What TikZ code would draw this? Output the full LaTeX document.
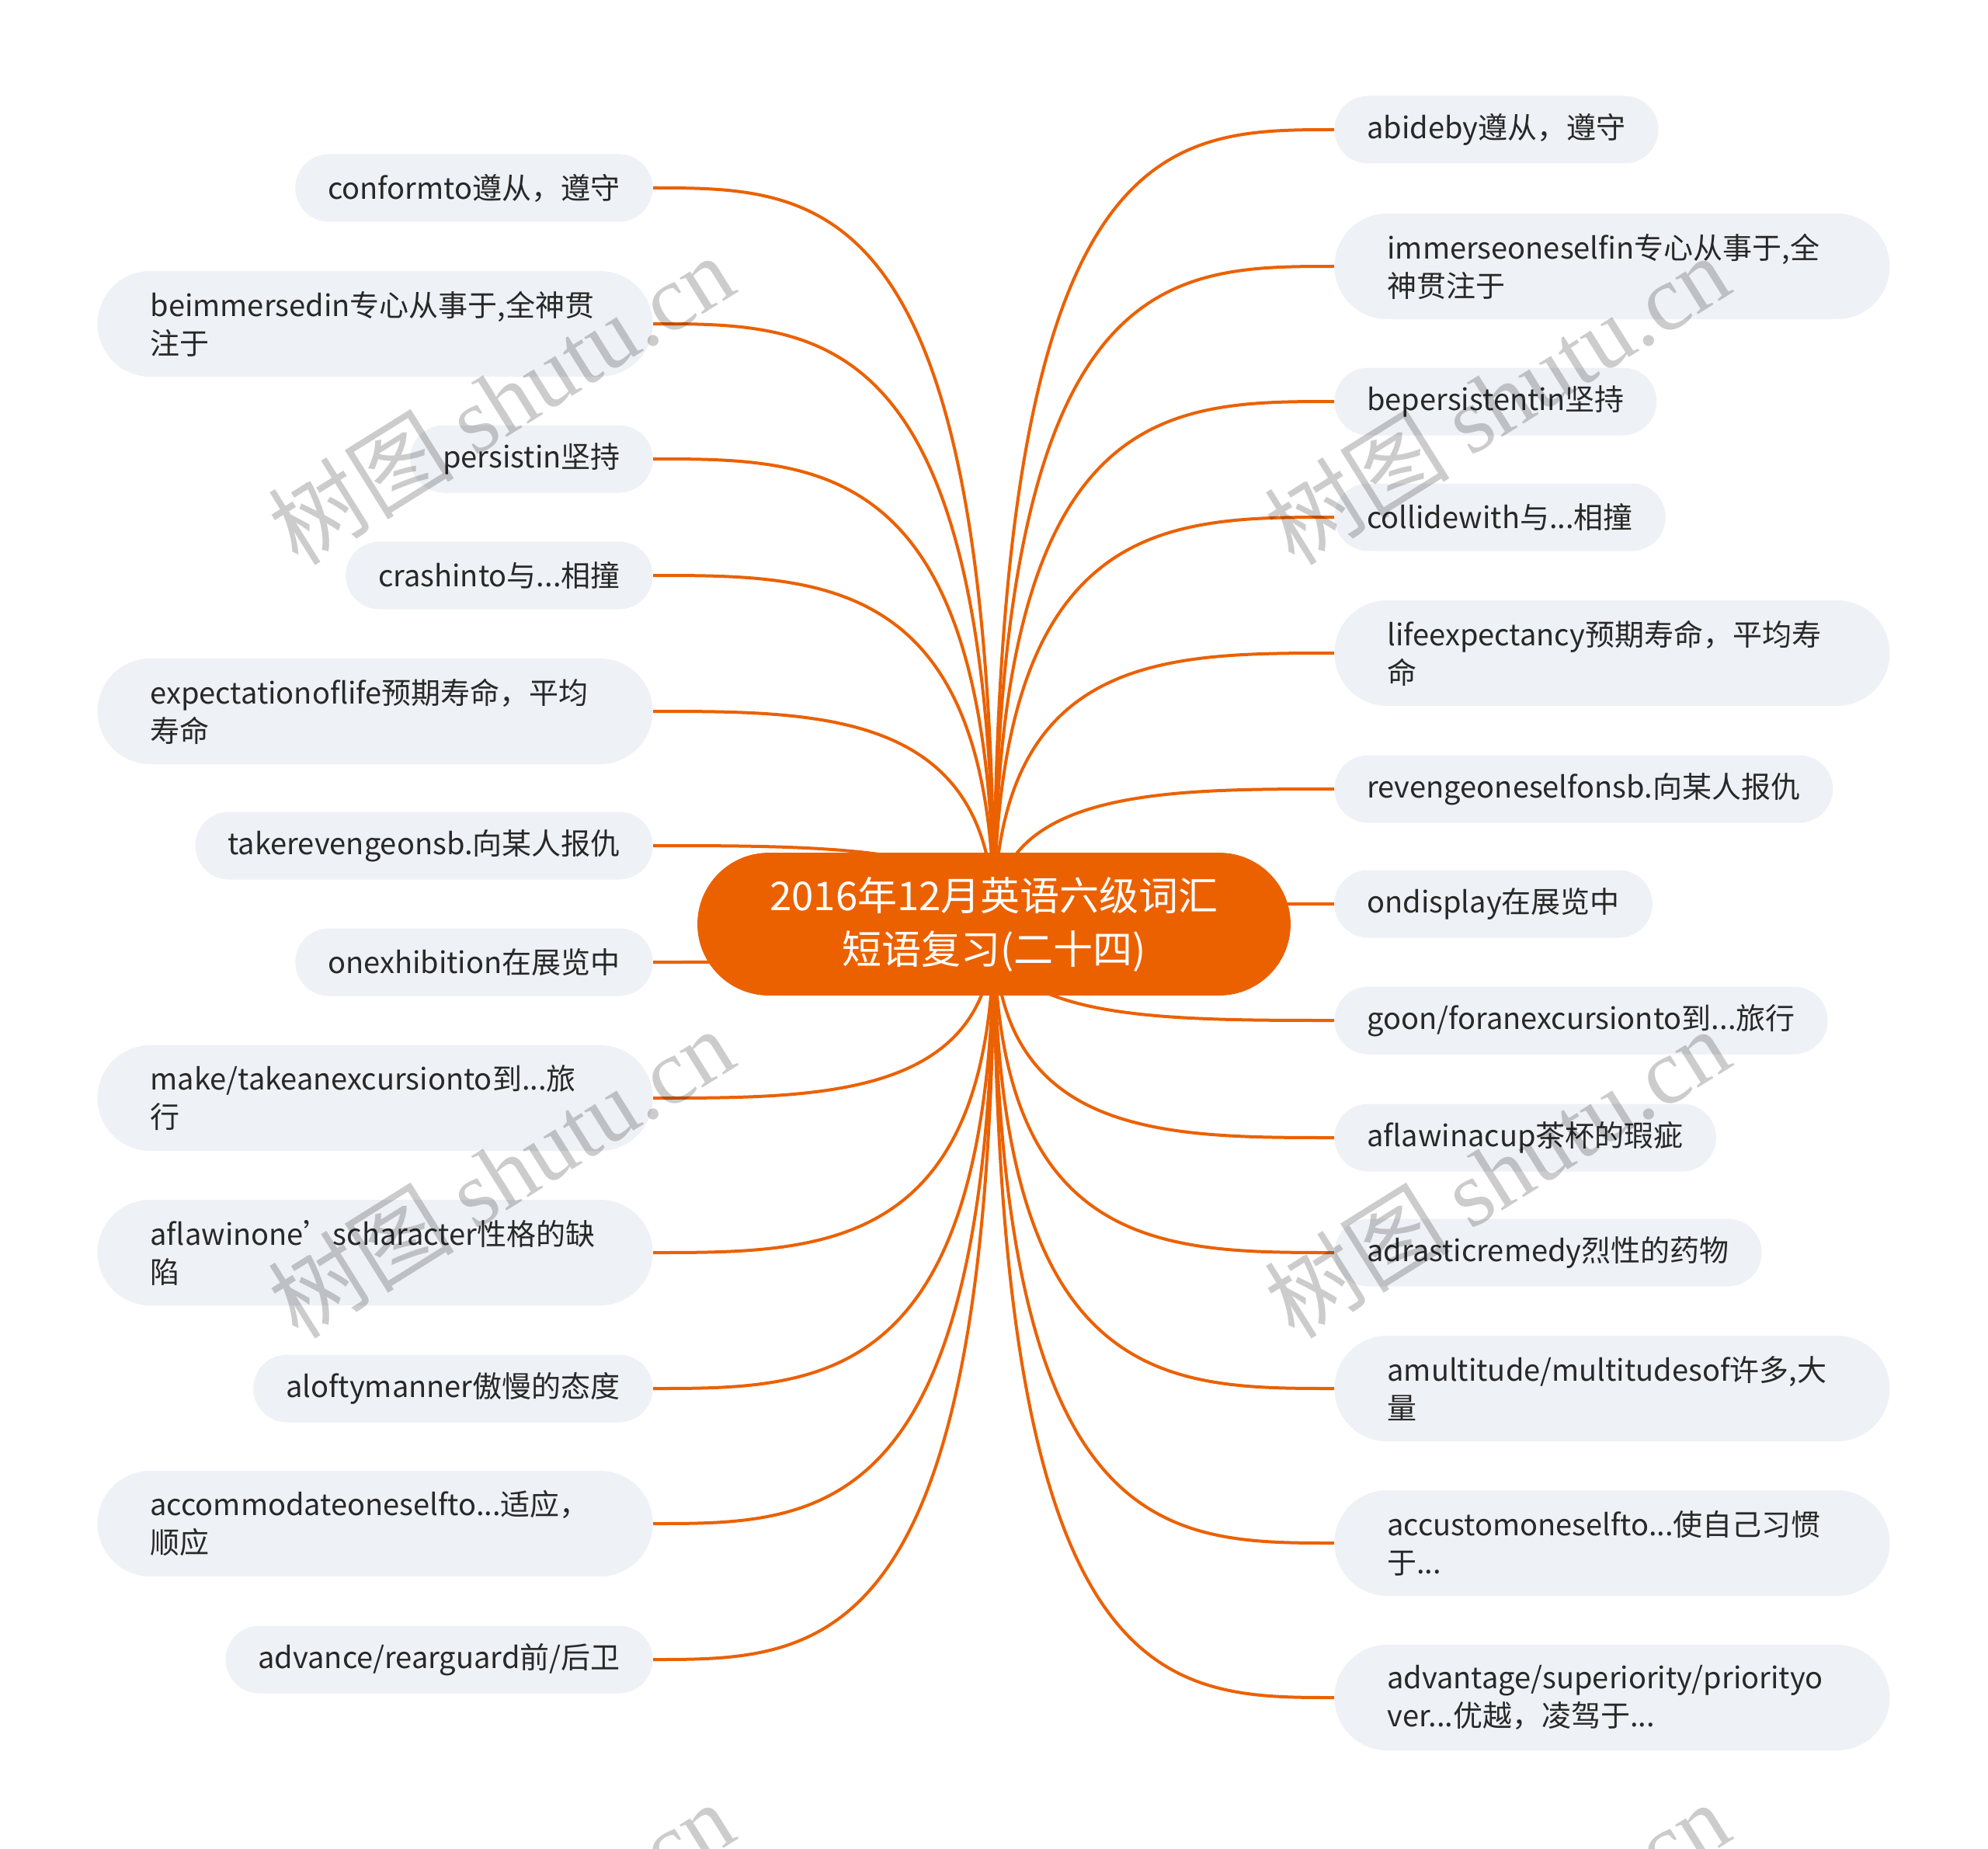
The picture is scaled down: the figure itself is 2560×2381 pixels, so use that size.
\documentclass[tikz,border=0pt]{standalone}
\usepackage{fontspec}
\setmainfont{Noto Sans CJK SC}
\newfontfamily\wmserif{Liberation Serif}
\usetikzlibrary{calc, backgrounds}
\definecolor{rootorange}{RGB}{235, 97, 0}
\definecolor{leafgray}{RGB}{238, 241, 245}
\definecolor{inkgray}{RGB}{40, 40, 40}
\newcommand{\leaffont}{\fontsize{19pt}{24.5pt}\selectfont}
\newcommand{\rootfont}{\fontsize{25.5pt}{34.5pt}\selectfont}

\tikzset{
  leaf/.style={rectangle, rounded corners=21.75pt, fill=leafgray, text=inkgray, font=\leaffont,
    inner xsep=21pt, inner ysep=0pt, minimum height=43.5pt},
  leaftwo/.style={leaf, rounded corners=34pt, inner xsep=34pt, text width=289.5pt,
    align=left, minimum height=68pt},
  rootnode/.style={rectangle, rounded corners=45.75pt, fill=rootorange, draw=rootorange, text=white,
    font=\rootfont, text width=290pt, align=center, inner xsep=45.75pt, minimum height=91.5pt},
  branch/.style={draw=rootorange, line width=2pt},
  wmark/.style={text=black, text opacity=0.2, rotate=32, font=\fontsize{60pt}{60pt}\selectfont}
}

\begin{document}
\begin{tikzpicture}[x=0.5pt, y=-0.5pt]
  \useasboundingbox (0,0) rectangle (2560,2381);

  \node[rootnode] (root) at (1280,1190) {2016年12月英语六级词汇\\短语复习(二十四)};

  % left side
  \node[leaf, anchor=east] (conform) at (841,242) {conformto遵从，遵守};
  \node[leaftwo, anchor=east] (beimm) at (841,417) {beimmersedin专心从事于,全神贯\\注于};
  \node[leaf, anchor=east] (persist) at (841,591) {persistin坚持};
  \node[leaf, anchor=east] (crash) at (841,741) {crashinto与...相撞};
  \node[leaftwo, anchor=east] (expect) at (841,916) {expectationoflife预期寿命，平均\\寿命};
  \node[leaf, anchor=east] (takerev) at (841,1089) {takerevengeonsb.向某人报仇};
  \node[leaf, anchor=east] (onexh) at (841,1239) {onexhibition在展览中};
  \node[leaftwo, anchor=east] (maketake) at (841,1414) {make/takeanexcursionto到...旅\\行};
  \node[leaftwo, anchor=east] (flawchar) at (841,1613) {aflawinone’scharacter性格的缺\\陷};
  \node[leaf, anchor=east] (lofty) at (841,1788) {aloftymanner傲慢的态度};
  \node[leaftwo, anchor=east] (accom) at (841,1962) {accommodateoneselfto...适应，\\顺应};
  \node[leaf, anchor=east] (advguard) at (841,2137) {advance/rearguard前/后卫};

  % right side
  \node[leaf, anchor=west] (abide) at (1718,167) {abideby遵从，遵守};
  \node[leaftwo, anchor=west] (immerse) at (1718,343) {immerseoneselfin专心从事于,全\\神贯注于};
  \node[leaf, anchor=west] (bepers) at (1718,517) {bepersistentin坚持};
  \node[leaf, anchor=west] (collide) at (1718,666) {collidewith与...相撞};
  \node[leaftwo, anchor=west] (lifeexp) at (1718,841) {lifeexpectancy预期寿命，平均寿\\命};
  \node[leaf, anchor=west] (revenge) at (1718,1016) {revengeoneselfonsb.向某人报仇};
  \node[leaf, anchor=west] (ondisp) at (1718,1164) {ondisplay在展览中};
  \node[leaf, anchor=west] (goon) at (1718,1314) {goon/foranexcursionto到...旅行};
  \node[leaf, anchor=west] (flawcup) at (1718,1465) {aflawinacup茶杯的瑕疵};
  \node[leaf, anchor=west] (drastic) at (1718,1613) {adrasticremedy烈性的药物};
  \node[leaftwo, anchor=west] (multi) at (1718,1788) {amultitude/multitudesof许多,大\\量};
  \node[leaftwo, anchor=west] (accust) at (1718,1987) {accustomoneselfto...使自己习惯\\于...};
  \node[leaftwo, anchor=west] (advant) at (1718,2186) {advantage/superiority/priorityo\\ver...优越，凌驾于...};

  % branches behind the nodes
  \begin{scope}[on background layer]
    \fill[white] (0,0) rectangle (2560,2381);
    \foreach \n in {conform,beimm,persist,crash,expect,takerev,onexh,maketake,flawchar,lofty,accom,advguard}
      \draw[branch] (root.center) .. controls (root.center |- \n.east)
        and ($(root.center |- \n.east)!0.5!(\n.east)$) .. (\n.east);
    \foreach \n in {abide,immerse,bepers,collide,lifeexp,revenge,ondisp,goon,flawcup,drastic,multi,accust,advant}
      \draw[branch] (root.center) .. controls (root.center |- \n.west)
        and ($(root.center |- \n.west)!0.5!(\n.west)$) .. (\n.west);
  \end{scope}

  % watermark
  \node[wmark] (wm1) at (645,514) {树图 {\wmserif shutu.cn}};
  \node[wmark] (wm2) at (1927,514) {树图 {\wmserif shutu.cn}};
  \node[wmark] (wm3) at (645,1510) {树图 {\wmserif shutu.cn}};
  \node[wmark] (wm4) at (1927,1510) {树图 {\wmserif shutu.cn}};
  \node[wmark] (wm5) at (645,2506) {树图 {\wmserif shutu.cn}};
  \node[wmark] (wm6) at (1927,2506) {树图 {\wmserif shutu.cn}};
\end{tikzpicture}
\end{document}
